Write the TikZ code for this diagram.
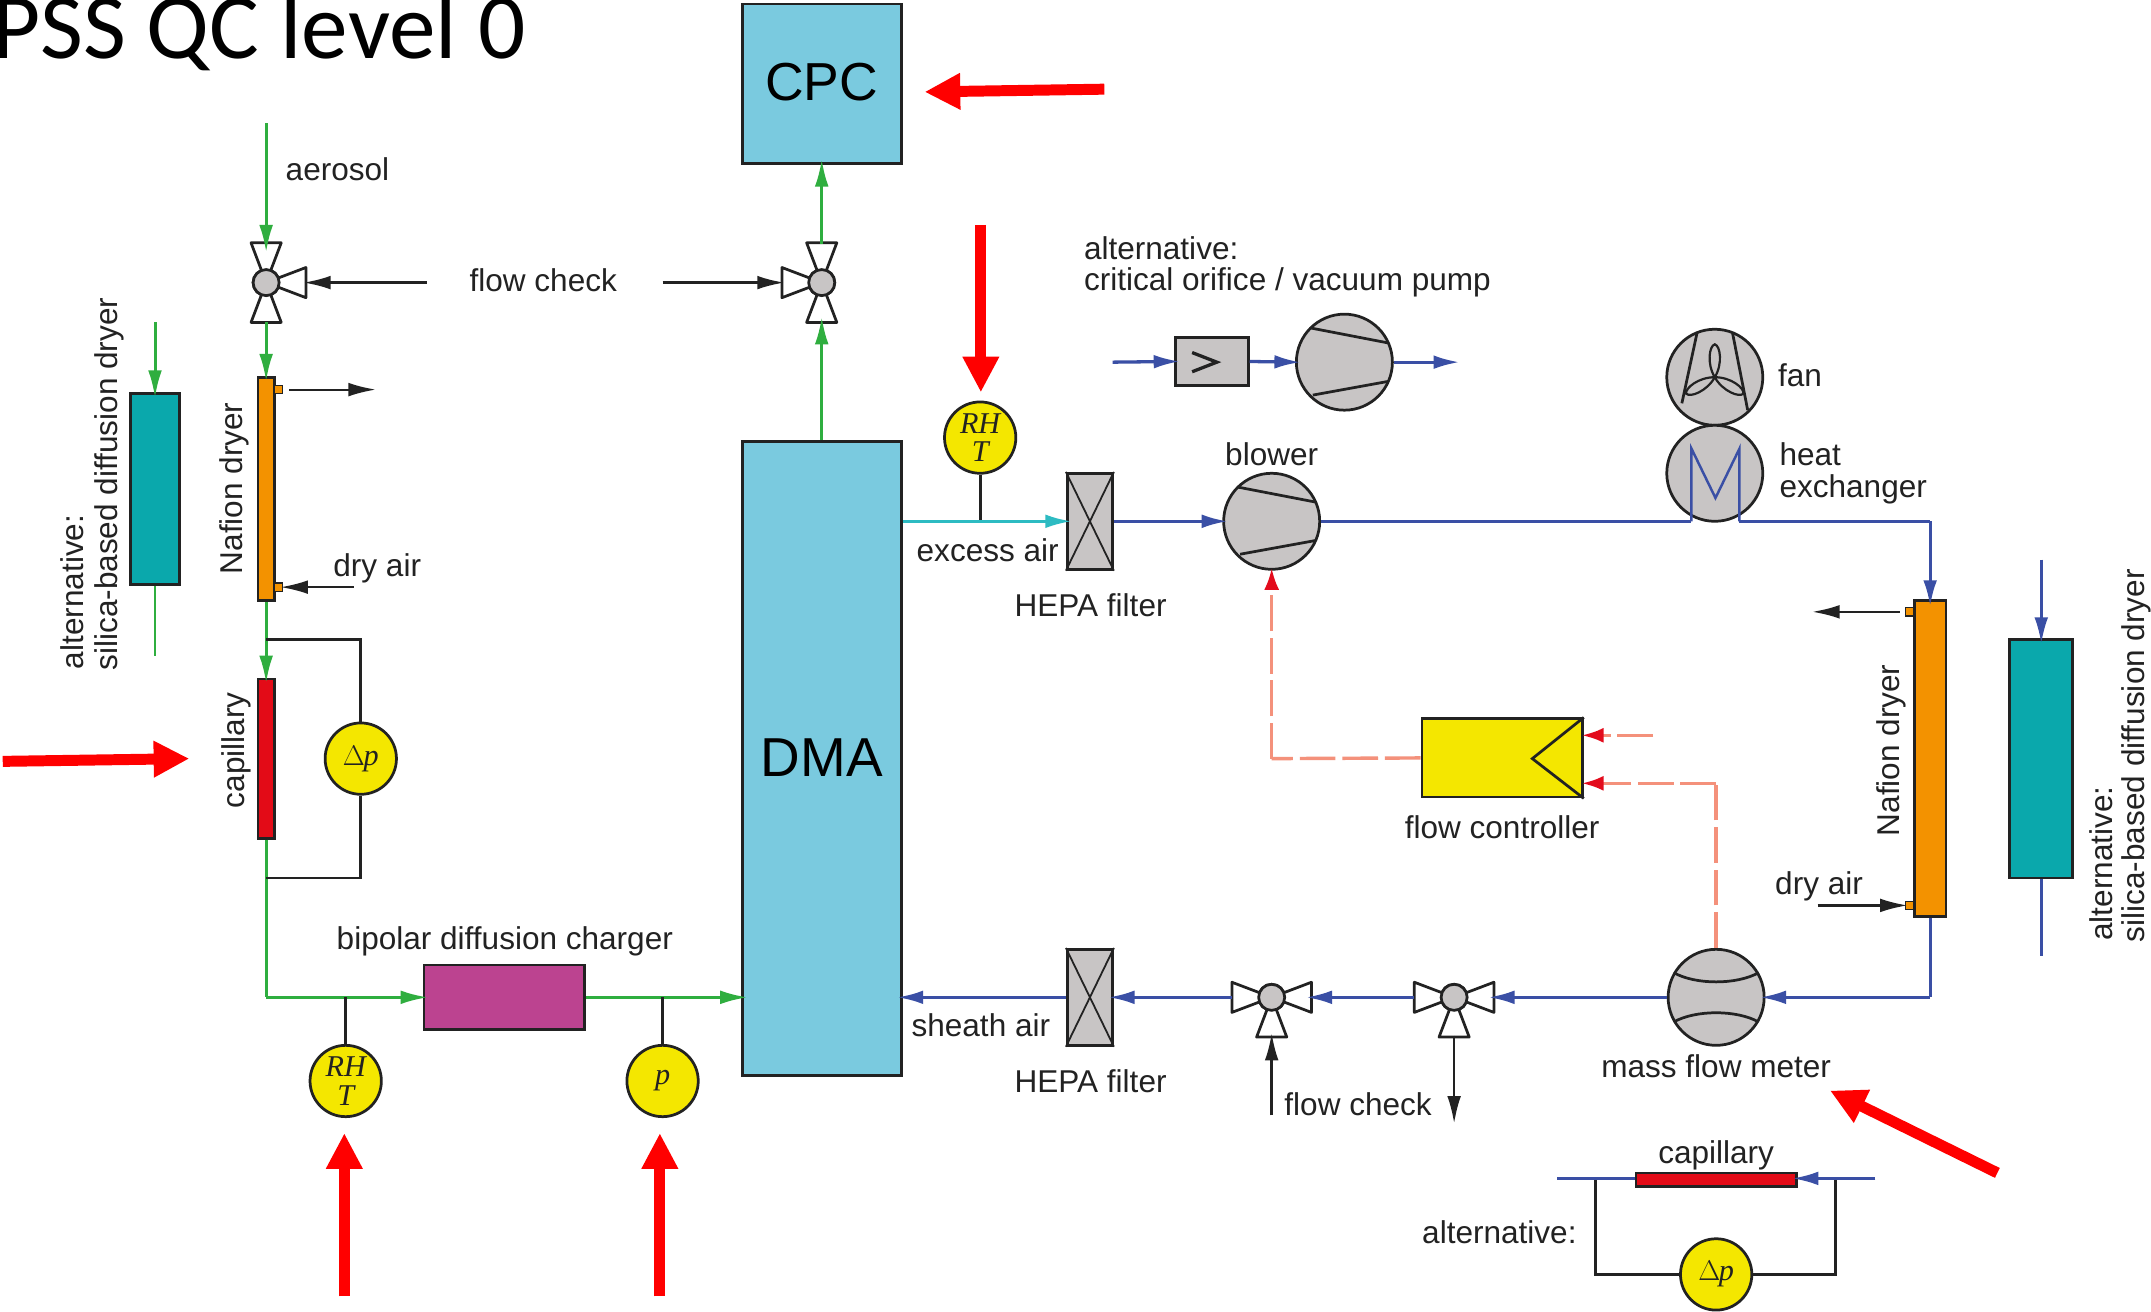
\documentclass[tikz,border=0pt]{standalone}
\usepackage{fontspec}
\setmainfont{Liberation Sans}
\newfontfamily\titlefont{Carlito}
\newfontfamily\symfont{Liberation Serif}
\usetikzlibrary{arrows.meta,calc}
\definecolor{gflow}{HTML}{2FAE3F}
\definecolor{bflow}{HTML}{3A4FA5}
\definecolor{cflow}{HTML}{2DBBC2}
\definecolor{rdash}{HTML}{F4917B}
\definecolor{rtip}{HTML}{E30B1C}
\definecolor{dmablue}{HTML}{7ACADF}
\definecolor{compgray}{HTML}{C8C5C5}
\definecolor{yel}{HTML}{F4E700}
\definecolor{orng}{HTML}{F39200}
\definecolor{capred}{HTML}{E30B17}
\definecolor{teal}{HTML}{0AA8AC}
\definecolor{purp}{HTML}{BC4390}
\definecolor{ink}{HTML}{222222}
\tikzset{
  x=1pt,y=-1pt,
  lab/.style={inner sep=0pt,text=ink,font=\fontsize{23}{27}\selectfont,align=left},
  box/.style n args={3}{draw=ink,line width=2pt,inner sep=0pt,minimum width=#1,minimum height=#2,fill=#3},
  gauge/.style={draw=ink,line width=2pt,circle,fill=yel,minimum size=52pt,inner sep=0pt,align=center,
     font=\symfont\itshape\fontsize{22}{22}\selectfont,text=ink},
  machine/.style={draw=ink,line width=2pt,circle,fill=compgray,minimum size=70pt,inner sep=0pt},
  hub/.style={draw=ink,line width=2pt,circle,fill=compgray,minimum size=19pt,inner sep=0pt},
  stub/.style={draw=ink,line width=1pt,fill=orng,minimum size=6pt,inner sep=0pt},
  gline/.style={draw=gflow,line width=2.2pt,-{Latex[length=20pt,width=10pt]},shorten >=-4pt},
  gbare/.style={draw=gflow,line width=1.8pt},
  bline/.style={draw=bflow,line width=2.4pt,-{Latex[length=19pt,width=10pt]},shorten >=-4pt},
  bbare/.style={draw=bflow,line width=1.8pt},
  cline/.style={draw=cflow,line width=2.2pt,-{Latex[length=19pt,width=10pt]},shorten >=-3pt},
  kline/.style={draw=ink,line width=2pt,-{Latex[length=20pt,width=10pt]},shorten >=-2pt},
  kbare/.style={draw=ink,line width=2pt},
  rline/.style={draw=rdash,line width=2.5pt,dash pattern=on 26pt off 5pt,-{Latex[length=16pt,width=11pt,color=rtip]}},
  rbare/.style={draw=rdash,line width=2.5pt,dash pattern=on 26pt off 5pt},
  bigred/.style={draw=red,line width=8pt,-{Triangle[length=26pt,width=25pt]}},
  pics/nozzle/.style={code={\draw[draw=ink,line width=2pt,fill=white,line join=round] (0,0) -- (-11,-29) -- (11,-29) -- cycle;}},
  pics/pumpblades/.style={code={\draw[ink,line width=2pt] (-25,-25) -- (32,-14) (-23,24) -- (32,14);}},
  pics/meterblades/.style={code={\draw[ink,line width=2pt] (-31,-18) .. controls (-15,-9) and (15,-9) .. (31,-18) (-31,18) .. controls (-15,9) and (15,9) .. (31,18);}},
  pics/petal/.style={code={\draw[ink,line width=1.6pt] (0,0) .. controls (-6,-10) and (-4,-23) .. (0,-24) .. controls (4,-23) and (6,-10) .. (0,0);}},
}
\begin{document}
\begin{tikzpicture}
\useasboundingbox (0,0) rectangle (1568,956);
\clip (0,0) rectangle (1568,956);
\fill[white] (0,0) rectangle (1568,956);

% title
\node[anchor=base west,inner sep=0pt,font=\titlefont\fontsize{68}{68}\selectfont,text=black] (title) at (-6,43) {PSS QC level 0};

% main boxes
\node[box={116pt}{116pt}{dmablue},font=\fontsize{39}{39}\selectfont,text=black] (cpc) at (599,61) {\raisebox{2pt}{CPC}};
\node[box={116pt}{462pt}{dmablue},font=\fontsize{40}{40}\selectfont,text=black] (dma) at (599,553) {\raisebox{2pt}{DMA}};
\node[box={117pt}{47pt}{purp}] (charger) at (367.5,727) {};
\node[box={12pt}{163pt}{orng}] (nafL) at (194,356.5) {};
\node[stub] (nafLa) at (203,284) {};
\node[stub] (nafLb) at (203,428) {};
\node[box={12pt}{116pt}{capred}] (capL) at (194,553) {};
\node[box={36pt}{139pt}{teal}] (altL) at (113,356.5) {};
\node[box={23pt}{230pt}{orng}] (nafR) at (1407,553) {};
\node[stub] (nafRa) at (1392,446) {};
\node[stub] (nafRb) at (1392,660) {};
\node[box={46pt}{174pt}{teal}] (altR) at (1488,553) {};
\node[box={117pt}{10pt}{capred}] (capB) at (1251,860) {};
\node[box={117pt}{57pt}{yel}] (fc) at (1095,552.5) {};
\draw[ink,line width=2pt] (fc.north east) -- (1117,553) -- (fc.south east);
\node[box={33pt}{70pt}{compgray}] (hepaA) at (794.5,380) {};
\node[box={33pt}{70pt}{compgray}] (hepaB) at (794.5,727) {};
\draw[ink,line width=1.3pt] (hepaA.north west) -- (hepaA.south east) (hepaA.north east) -- (hepaA.south west);
\draw[ink,line width=1.3pt] (hepaB.north west) -- (hepaB.south east) (hepaB.north east) -- (hepaB.south west);
\node[box={53pt}{35pt}{compgray}] (orifice) at (883.5,263.5) {};
\draw[ink,line width=2.4pt] (869,257) -- (887,264) -- (869,271);

% rotating machines
\node[machine] (blower) at (927,380) {};
\pic at (blower) {pumpblades};
\node[machine] (pump) at (980,264) {};
\pic at (pump) {pumpblades};
\node[machine] (fan) at (1250,275) {};
\draw[ink,line width=2pt] (1237,243) -- (1226,294) (1263,243) -- (1274,299);
\pic at (fan) {petal};
\pic[rotate=120] at (fan) {petal};
\pic[rotate=240] at (fan) {petal};
\node[machine] (hex) at (1250,345) {};
\node[machine] (mfm) at (1251,727) {};
\pic at (mfm) {meterblades};

% gauges
\node[gauge] (gdpL) at (263,553) {\textup{$\Delta$}\kern-1pt p};
\node[gauge] (grhA) at (252,788) {RH\\[-1pt]T};
\node[gauge] (gp) at (483,788) {p};
\node[gauge] (grhB) at (714.5,319) {RH\\[-1pt]T};
\node[gauge] (gdpB) at (1251,929) {\textup{$\Delta$}\kern-1pt p};

% valves
\node[hub] (v1) at (194,206) {};
\pic at (v1) {nozzle};
\pic[rotate=180] at (v1) {nozzle};
\pic[rotate=-90] at (v1) {nozzle};
\node[hub] at (v1) {};
\node[hub] (v2) at (599,206) {};
\pic at (v2) {nozzle};
\pic[rotate=180] at (v2) {nozzle};
\pic[rotate=90] at (v2) {nozzle};
\node[hub] at (v2) {};
\node[hub] (v3) at (927,727) {};
\pic[rotate=90] at (v3) {nozzle};
\pic[rotate=-90] at (v3) {nozzle};
\pic[rotate=180] at (v3) {nozzle};
\node[hub] at (v3) {};
\node[hub] (v4) at (1060,727) {};
\pic[rotate=90] at (v4) {nozzle};
\pic[rotate=-90] at (v4) {nozzle};
\pic[rotate=180] at (v4) {nozzle};
\node[hub] at (v4) {};

% free ends
\coordinate (aerStart) at (194,90);
\coordinate (v1n) at (194,180);
\coordinate (v1s) at (194,235);
\coordinate (v2n) at (599,178);
\coordinate (v2s) at (599,235);
\coordinate (v1e) at (223,206);
\coordinate (v2w) at (570,206);
\coordinate (fcL) at (311,206);
\coordinate (fcR) at (483,206);
\coordinate (nafOut) at (272,284);
\coordinate (nafOutS) at (211,284);
\coordinate (dryL) at (258,428);
\coordinate (altLin) at (113,235);
\coordinate (altLout) at (113,478);
\coordinate (byA) at (263,466);
\coordinate (byB) at (263,640);
\coordinate (byA0) at (194,466);
\coordinate (byB0) at (194,640);
\coordinate (crn) at (194,727);
\coordinate (tapA) at (252,727);
\coordinate (tapB) at (483,727);
\coordinate (dmaIn) at (541,727);
\coordinate (tapC) at (714.5,380);
\coordinate (hepaAin) at (778,380);
\coordinate (exA) at (1233,380);
\coordinate (exB) at (1233,327);
\coordinate (exC) at (1250.5,363);
\coordinate (exD) at (1268,327);
\coordinate (exE) at (1268,380);
\coordinate (exF) at (1407,380);
\coordinate (nafRin) at (1407,438);
\coordinate (nafRoutA) at (1385,446);
\coordinate (nafRoutB) at (1323,446);
\coordinate (dryR) at (1325,660);
\coordinate (altRin) at (1488,408);
\coordinate (altRout) at (1488,697);
\coordinate (mfmCorner) at (1407,727);
\coordinate (v4e) at (1089,727);
\coordinate (v4w) at (1031,727);
\coordinate (v3e) at (956,727);
\coordinate (v3w) at (898,727);
\coordinate (fcOutC) at (927,553);
\coordinate (blowerIn) at (927,414);
\coordinate (sigA) at (1205,536);
\coordinate (sigAe) at (1153,536);
\coordinate (sigB) at (1251,571);
\coordinate (sigBe) at (1153,571);
\coordinate (v3b) at (927,755);
\coordinate (v3bs) at (927,813);
\coordinate (v4b) at (1060,755);
\coordinate (v4bs) at (1060,817);
\coordinate (orIn) at (811,264);
\coordinate (orOut) at (1060,264);
\coordinate (cbL) at (1135,859);
\coordinate (cbR) at (1367,859);
\coordinate (cbLk) at (1163,859);
\coordinate (cbRk) at (1338,859);
\coordinate (cbLd) at (1163,929);
\coordinate (cbRd) at (1338,929);

% green flow
\draw[gline] (aerStart) -- (v1n);
\draw[gline] (v1s) -- (nafL.north);
\draw[gline] (nafL.south) -- (capL.north);
\draw[gbare,line width=2.2pt] (capL.south) -- (crn);
\draw[gline] (crn) -- (charger.west);
\draw[gline] (charger.east) -- (dmaIn);
\draw[gline] (dma.north) -- (v2s);
\draw[gline] (v2n) -- (cpc.south);
\draw[gline] (altLin) -- (altL.north);
\draw[gbare] (altL.south) -- (altLout);

% black connections
\draw[kline] (fcL) -- (v1e);
\draw[kline] (fcR) -- (v2w);
\draw[kline,line width=1.6pt] (nafOutS) -- (nafOut);
\draw[kline,line width=1.6pt] (dryL) -- (nafLb.east);
\draw[kbare] (byA0) -- (byA) -- (gdpL.north);
\draw[kbare] (gdpL.south) -- (byB) -- (byB0);
\draw[kbare] (tapA) -- (grhA.north);
\draw[kbare] (tapB) -- (gp.north);
\draw[kbare] (grhB.south) -- (tapC);
\draw[kline,line width=1.6pt] (nafRoutA) -- (nafRoutB);
\draw[kline,line width=1.6pt] (dryR) -- (nafRb.west);
\draw[kline,line width=1.8pt] (v3bs) -- (v3b);
\draw[kline,line width=1.8pt] (v4b) -- (v4bs);
\draw[kbare] (cbLk) -- (cbLd) -- (gdpB.west);
\draw[kbare] (gdpB.east) -- (cbRd) -- (cbRk);

% blue flow
\draw[cline] (dma.east |- hepaAin) -- (hepaAin);
\draw[bline] (hepaA.east) -- (blower.west);
\draw[bbare,line width=2.4pt] (blower.east) -- (exA);
\draw[bbare] (exA) -- (exB) -- (exC) -- (exD) -- (exE);
\draw[bbare,line width=2.4pt] (exE) -- (exF);
\draw[bline] (exF) -- (nafRin);
\draw[bbare,line width=2.4pt] (nafR.south) -- (mfmCorner);
\draw[bline] (mfmCorner) -- (mfm.east);
\draw[bline] (mfm.west) -- (v4e);
\draw[bline] (v4w) -- (v3e);
\draw[bline] (v3w) -- (hepaB.east);
\draw[bline] (hepaB.west) -- (dma.east |- hepaB.west);
\draw[bline,line width=1.8pt] (altRin) -- (altR.north);
\draw[bbare] (altR.south) -- (altRout);
\draw[bline] (orIn) -- (orifice.west);
\draw[bline] (orifice.east) -- (pump.west);
\draw[bline] (pump.east) -- (orOut);
\draw[bbare,line width=2.2pt] (cbL) -- (capB.west |- cbL);
\draw[bline,line width=2.2pt] (cbR) -- (capB.east |- cbR);

% red control
\draw[rbare] (fc.west) -- (fcOutC);
\draw[rline] (fcOutC) -- (blowerIn);
\draw[rline] (sigA) -- (sigAe);
\draw[rbare] (mfm.north) -- (sigB);
\draw[rline] (sigB) -- (sigBe);

% big red arrows
\coordinate (r1a) at (805,65); \coordinate (r1b) at (674,67);
\coordinate (r2a) at (715,164); \coordinate (r2b) at (715,286);
\coordinate (r3a) at (2,555); \coordinate (r3b) at (138,553);
\coordinate (r4a) at (251,945); \coordinate (r4b) at (251,826);
\coordinate (r5a) at (481,945); \coordinate (r5b) at (481,826);
\coordinate (r6a) at (1456,855); \coordinate (r6b) at (1334,795);
\draw[bigred] (r1a) -- (r1b);
\draw[bigred] (r2a) -- (r2b);
\draw[bigred] (r3a) -- (r3b);
\draw[bigred] (r4a) -- (r4b);
\draw[bigred] (r5a) -- (r5b);
\draw[bigred] (r6a) -- (r6b);

% labels
\node[lab] (tAer) at (246,123) {aerosol};
\node[lab] (tFc1) at (396,204) {flow check};
\node[lab,rotate=90] (tNafL) at (171,356) {Nafion dryer};
\node[lab] (tDryL) at (275,414) {dry air};
\node[lab,rotate=90] (tCapL) at (172,547) {capillary};
\node[lab,rotate=90,anchor=base west] (tAltL) at (61,488) {alternative:\vphantom{g}};
\node[lab,rotate=90,anchor=base west] (tSilL) at (86,489) {silica-based diffusion dryer};
\node[lab] (tBip) at (368,686) {bipolar diffusion charger};
\node[lab] (tEx) at (720,401) {excess air};
\node[lab] (tHa) at (795,441) {HEPA filter};
\node[lab] (tHb) at (795,788) {HEPA filter};
\node[lab] (tSh) at (715,747) {sheath air};
\node[lab,anchor=base west] (tAlt1) at (790,189) {alternative:};
\node[lab,anchor=base west] (tAlt2) at (790,212) {critical orifice / vacuum pump};
\node[lab] (tBl) at (927,331) {blower};
\node[lab,anchor=base west] (tFan) at (1296,282) {fan};
\node[lab,anchor=base west] (tHe1) at (1297,339) {heat};
\node[lab,anchor=base west] (tHe2) at (1297,363) {exchanger};
\node[lab] (tFC) at (1095,603) {flow controller};
\node[lab] (tMf) at (1251,777) {mass flow meter};
\node[lab] (tFc2) at (990,805) {flow check};
\node[lab] (tDryR) at (1326,646) {dry air};
\node[lab,rotate=90] (tNafR) at (1379,547) {Nafion dryer};
\node[lab,rotate=90,anchor=base west] (tAltR) at (1540,686) {alternative:\vphantom{g}};
\node[lab,rotate=90,anchor=base west] (tSilR) at (1563,687) {silica-based diffusion dryer};
\node[lab] (tCapB) at (1251,842) {capillary};
\node[lab] (tAltB) at (1093,898) {alternative:};
\end{tikzpicture}
\end{document}
